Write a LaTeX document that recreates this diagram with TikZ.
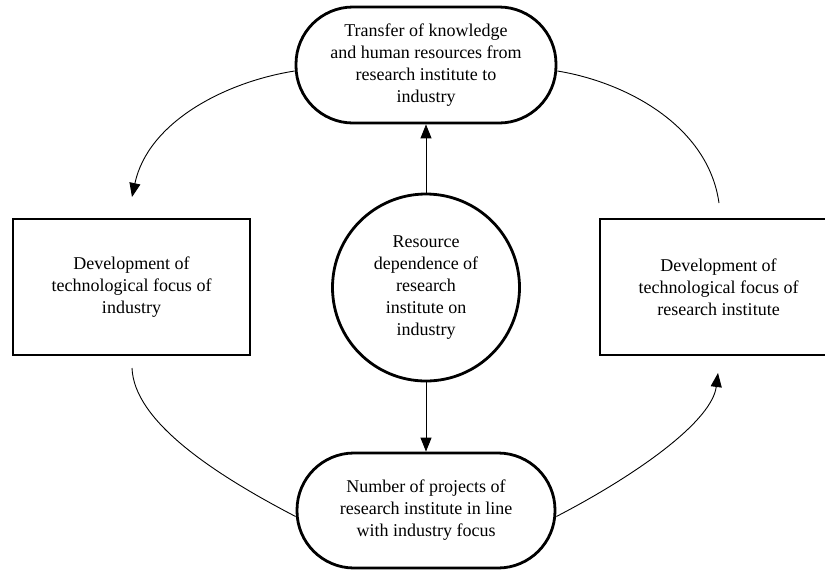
\documentclass[tikz,border=0pt]{standalone}
\usepackage{fontspec}
\setmainfont{Liberation Serif}
\usetikzlibrary{arrows.meta}
\begin{document}
\begin{tikzpicture}[x=1pt,y=-1pt,
  txt/.style={font=\fontsize{18}{22}\selectfont, align=center, inner sep=0pt},
  stadium/.style={txt, draw, line width=2.8pt, rounded corners=57pt},
  boxnode/.style={txt, draw, line width=2.8pt},
  ringnode/.style={txt, draw, circle, line width=2.8pt},
  conn/.style={line width=0.9pt},
  tip/.style={-{Triangle[length=14pt,width=11pt]}}]
\useasboundingbox (0,0) rectangle (825,571);
\node[stadium, minimum width=260pt, minimum height=116pt] (top) at (426,65)
  {Transfer of knowledge\\and human resources from\\research institute to\\industry};
\node[stadium, minimum width=258pt, minimum height=115pt] (bot) at (426,510.5)
  {Number of projects of\\research institute in line\\with industry focus};
\node[ringnode, minimum size=187pt] (mid) at (426,287.5)
  {Resource\\dependence of\\research\\institute on\\industry};
\node[boxnode, minimum width=237pt, minimum height=136pt] (left) at (131.5,287)
  {Development of\\technological focus of\\industry};
\node[boxnode, minimum width=237pt, minimum height=136pt] (right) at (718.5,287)
  {Development of\\technological focus of\\research institute};
\coordinate (tl) at (132,197);
\coordinate (tr) at (719,203);
\coordinate (bl) at (132,368);
\coordinate (br) at (718,373);
\draw[conn, tip] (mid.north) -- (top.south);
\draw[conn, tip] (mid.south) -- (bot.north);
\draw[conn, tip] ([yshift=-6pt]top.west) .. controls (225,82) and (148,122) .. (tl);
\draw[conn] ([yshift=-6pt]top.east) .. controls (625,82) and (708,125) .. (tr);
\draw[conn] (bl) .. controls (134,420) and (210,472) .. ([yshift=-6pt]bot.west);
\draw[conn, tip] ([yshift=-6pt]bot.east) .. controls (642,472) and (712,420) .. (br);
\end{tikzpicture}
\end{document}
